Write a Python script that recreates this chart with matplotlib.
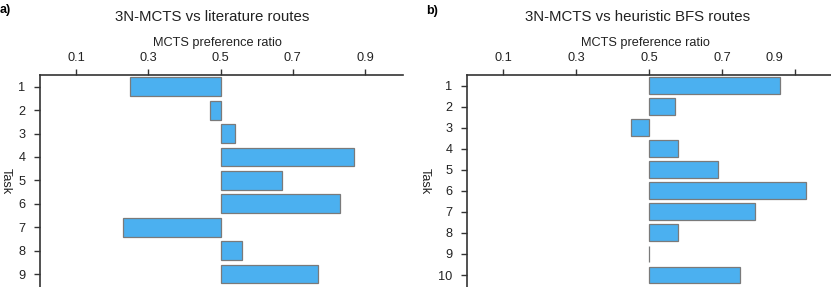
import matplotlib
matplotlib.use("Agg")
import matplotlib.pyplot as plt
from matplotlib.transforms import ScaledTranslation

plt.rcParams['font.family'] = ['Liberation Sans', 'DejaVu Sans']

tasks_a = [1, 2, 3, 4, 5, 6, 7, 8, 9]
ratio_a = [0.25, 0.47, 0.54, 0.87, 0.67, 0.83, 0.23, 0.56, 0.77]
tasks_b = [1, 2, 3, 4, 5, 6, 7, 8, 9, 10]
ratio_b = [0.86, 0.57, 0.45, 0.58, 0.69, 0.93, 0.79, 0.58, 0.50, 0.75]
xticks = [0.1, 0.3, 0.5, 0.7, 0.9]
titles = ["3N-MCTS vs literature routes", "3N-MCTS vs heuristic BFS routes"]

W, H = 831, 287
fig = plt.figure(figsize=(W / 100, H / 100), dpi=100)

bar_color = '#4BB0F0'
edge_color = '#7a7a7a'
spine_color = '#333333'
fs = 9.2

def make(ax, tasks, ratios, ybottom):
    lefts = [min(r, 0.5) for r in ratios]
    widths = [abs(r - 0.5) for r in ratios]
    ax.barh(tasks, widths, left=lefts, height=0.8, color=bar_color,
            edgecolor=edge_color, linewidth=0.9)
    ax.set_xlim(0, 1.005)
    ax.set_ylim(ybottom, 0.5)
    ax.set_yticks(tasks)
    ax.set_yticklabels([str(t) for t in tasks])
    ax.set_xticks(xticks)
    ax.set_xticklabels([f"{v:.1f}" for v in xticks])
    ax.xaxis.tick_top()
    for s in ['right', 'bottom']:
        ax.spines[s].set_visible(False)
    for s in ['top', 'left']:
        ax.spines[s].set_color(spine_color)
        ax.spines[s].set_linewidth(1.2)
    ax.tick_params(axis='both', direction='out', length=4.5, width=1.0,
                   color=spine_color, labelsize=fs, labelcolor='#222222')
    ax.tick_params(axis='x', pad=3.5)
    ax.tick_params(axis='y', pad=6)

ax1 = fig.add_axes([40 / W, 0, 363 / W, 1 - 75 / H])
make(ax1, tasks_a, ratio_a, 9.55)
ax2 = fig.add_axes([467 / W, 0, 366 / W, 1 - 75 / H])
make(ax2, tasks_b, ratio_b, 10.57)

# shift the 0.9 label in panel b leftward
fig.canvas.draw()
for lab in ax2.get_xticklabels():
    if lab.get_text() == '0.9':
        lab.set_transform(lab.get_transform() + ScaledTranslation(-20 / 100, 0, fig.dpi_scale_trans))

tc = '#222222'
fig.text(212 / W, 1 - 21 / H, titles[0], ha='center', va='baseline', fontsize=10.8, color=tc)
fig.text(638 / W, 1 - 21 / H, titles[1], ha='center', va='baseline', fontsize=10.8, color=tc)
fig.text(217 / W, 1 - 43 / H, "MCTS preference ratio", ha='center', va='center', fontsize=fs, color=tc)
fig.text(645 / W, 1 - 43 / H, "MCTS preference ratio", ha='center', va='center', fontsize=fs, color=tc)
fig.text(0 / W, 1 - 10 / H, "a)", ha='left', va='center', fontsize=9, fontweight='bold', color='black')
fig.text(426 / W, 1 - 11 / H, "b)", ha='left', va='center', fontsize=9, fontweight='bold', color='black')
fig.text(6 / W, 1 - 181 / H, "Task", ha='center', va='center', rotation=270, fontsize=fs, color=tc)
fig.text(425 / W, 1 - 181 / H, "Task", ha='center', va='center', rotation=270, fontsize=fs, color=tc)

fig.savefig("out.png", dpi=100)
